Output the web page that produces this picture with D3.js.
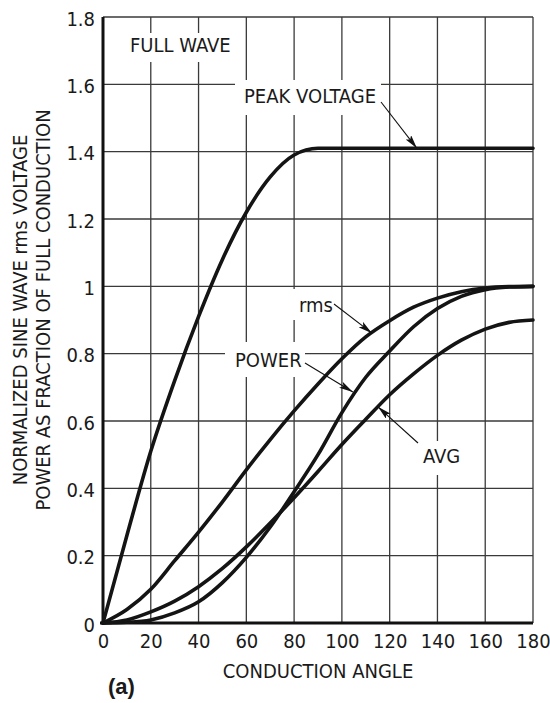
<!DOCTYPE html>
<html>
<head>
<meta charset="utf-8">
<script src="https://cdn.jsdelivr.net/npm/d3@7"></script>
<style>
  html, body { margin: 0; padding: 0; background: #fff; }
  svg { display: block; }
  text { font-family: "Liberation Sans Narrow", "Arial Narrow", "DejaVu Sans Condensed", sans-serif; fill: #1a1a1a; }
</style>
</head>
<body>
<svg id="chart" width="550" height="703"></svg>
<script>
// ---- data ----
const angles = [0, 10, 20, 30, 40, 50, 60, 70, 80, 90, 100, 110, 120, 130, 140, 150, 160, 170, 180];
const peakVoltage = [0, 0.26, 0.51, 0.72, 0.91, 1.08, 1.22, 1.325, 1.39, 1.41, 1.41, 1.41, 1.41, 1.41, 1.41, 1.41, 1.41, 1.41, 1.41];
const rmsVoltage  = [0, 0.04, 0.10, 0.185, 0.27, 0.36, 0.455, 0.545, 0.63, 0.71, 0.785, 0.85, 0.898, 0.938, 0.965, 0.984, 0.995, 0.999, 1.0];
const powerFrac   = [0, 0.002, 0.009, 0.03, 0.063, 0.12, 0.195, 0.285, 0.39, 0.50, 0.625, 0.73, 0.808, 0.88, 0.934, 0.97, 0.99, 0.998, 1.0];
const avgVoltage  = [0, 0.009, 0.033, 0.065, 0.108, 0.162, 0.226, 0.297, 0.372, 0.45, 0.53, 0.605, 0.678, 0.74, 0.795, 0.84, 0.873, 0.893, 0.90];

const xTicks = [0, 20, 40, 60, 80, 100, 120, 140, 160, 180];
const yTicks = [0, 0.2, 0.4, 0.6, 0.8, 1, 1.2, 1.4, 1.6, 1.8];
const yTickLabels = ["0", "0.2", "0.4", "0.6", "0.8", "1", "1.2", "1.4", "1.6", "1.8"];

const seriesNames = ["PEAK VOLTAGE", "rms", "POWER", "AVG"];
// arrow tips in data space: [angle, value]
const arrowTips = [[131.4, 1.41], [112.6, 0.861], [104.6, 0.686], [115.1, 0.642]];

// ---- layout ----
const L = 103, R = 533, T = 17, B = 623;
const svg = d3.select("#chart");
const x = d3.scaleLinear().domain([0, 180]).range([L, R]);
const y = d3.scaleLinear().domain([0, 1.8]).range([B, T]);

// grid
const grid = svg.append("g").attr("stroke", "#3a3a3a").attr("stroke-width", 1.3);
grid.selectAll("line.v").data(xTicks.slice(1)).join("line")
  .attr("x1", d => x(d)).attr("x2", d => x(d)).attr("y1", T).attr("y2", B);
grid.selectAll("line.h").data(yTicks.slice(1)).join("line")
  .attr("x1", L).attr("x2", R).attr("y1", d => y(d)).attr("y2", d => y(d));

// white boxes behind labels (break the grid like the reference)
const boxes = [
  [125, 33, 106, 29],   // FULL WAVE
  [235, 80, 146, 35],   // PEAK VOLTAGE
  [290, 289, 42, 31],   // rms
  [225, 342, 80, 35],   // POWER
  [418, 441, 46, 34]    // AVG
];
svg.append("g").selectAll("rect").data(boxes).join("rect")
  .attr("x", d => d[0]).attr("y", d => d[1]).attr("width", d => d[2]).attr("height", d => d[3])
  .attr("fill", "#fff");

// axes lines (thick left & bottom)
svg.append("line").attr("x1", L).attr("x2", L).attr("y1", T).attr("y2", B + 1.5)
  .attr("stroke", "#111").attr("stroke-width", 3);
svg.append("line").attr("x1", L - 3).attr("x2", R).attr("y1", B).attr("y2", B)
  .attr("stroke", "#111").attr("stroke-width", 3);

// tick labels through d3 axes
const xAxis = svg.append("g").attr("transform", `translate(0,${B})`)
  .call(d3.axisBottom(x).tickValues(xTicks).tickSize(0).tickFormat(d3.format("d")));
xAxis.select(".domain").remove();
xAxis.selectAll("text").attr("y", 25).attr("dy", 0)
  .style("font-size", "20px").style("font-family", null).attr("fill", "#1a1a1a");

const yAxis = svg.append("g").attr("transform", `translate(${L},0)`)
  .call(d3.axisLeft(y).tickValues(yTicks).tickSize(0).tickPadding(8)
    .tickFormat((d, i) => yTickLabels[i]));
yAxis.select(".domain").remove();
yAxis.selectAll("text").attr("dy", "0.4em")
  .style("font-size", "20px").style("font-family", null).attr("fill", "#1a1a1a");
xAxis.attr("font-family", null).attr("font-size", null);
yAxis.attr("font-family", null).attr("font-size", null);

// curves
const line = d3.line().x(d => x(d[0])).y(d => y(d[1])).curve(d3.curveMonotoneX);
const allSeries = [peakVoltage, rmsVoltage, powerFrac, avgVoltage];
svg.append("g").selectAll("path").data(allSeries).join("path")
  .attr("d", s => line(angles.map((a, i) => [a, s[i]])))
  .attr("fill", "none").attr("stroke", "#141414").attr("stroke-width", 3.6)
  .attr("stroke-linejoin", "round").attr("stroke-linecap", "round");

// arrows
const defs = svg.append("defs");
defs.append("marker").attr("id", "ah").attr("viewBox", "0 0 14 7")
  .attr("refX", 14).attr("refY", 3.5).attr("markerWidth", 14).attr("markerHeight", 7)
  .attr("markerUnits", "userSpaceOnUse").attr("orient", "auto")
  .append("path").attr("d", "M0,0 L14,3.5 L0,7 L3,3.5 Z").attr("fill", "#111");

const tails = [[381, 102], [334, 304], [305, 363], [418, 443]];
svg.append("g").selectAll("line").data(tails).join("line")
  .attr("x1", d => d[0]).attr("y1", d => d[1])
  .attr("x2", (d, i) => x(arrowTips[i][0])).attr("y2", (d, i) => y(arrowTips[i][1]))
  .attr("stroke", "#111").attr("stroke-width", 1.1).attr("marker-end", "url(#ah)");

// labels
const labels = [
  ["FULL WAVE", 130, 52],
  [seriesNames[0], 244, 103],
  [seriesNames[1], 299, 312],
  [seriesNames[2], 235, 367],
  [seriesNames[3], 423, 463]
];
svg.append("g").selectAll("text").data(labels).join("text")
  .attr("x", d => d[1]).attr("y", d => d[2]).style("font-size", "20px").text(d => d[0]);

// axis titles
svg.append("text").attr("x", (L + R) / 2).attr("y", 678).attr("text-anchor", "middle")
  .style("font-size", "20px").text("CONDUCTION ANGLE");
svg.append("text").attr("x", 108).attr("y", 694)
  .style("font-size", "22px").style("font-weight", "bold")
  .style("font-family", "'Liberation Sans', Arial, sans-serif").text("(a)");

const yt = svg.append("g").attr("transform", "translate(0,310) rotate(-90)");
yt.append("text").attr("x", 0).attr("y", 27).attr("text-anchor", "middle")
  .style("font-size", "20px").text("NORMALIZED SINE WAVE rms VOLTAGE");
yt.append("text").attr("x", 0).attr("y", 50).attr("text-anchor", "middle")
  .style("font-size", "20px").text("POWER AS FRACTION OF FULL CONDUCTION");
</script>
</body>
</html>
